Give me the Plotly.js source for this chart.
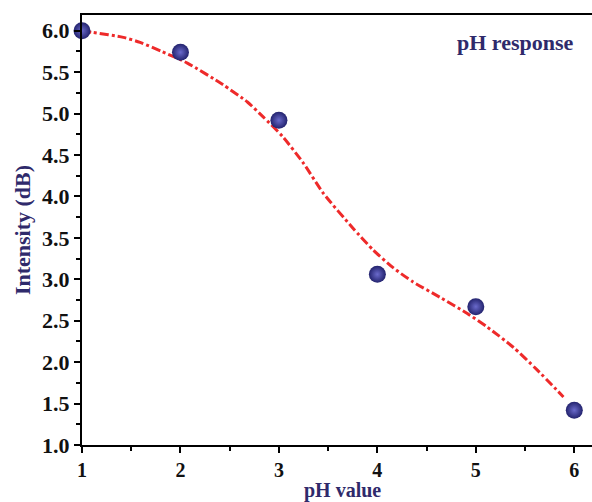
<!DOCTYPE html>
<html>
<head>
<meta charset="utf-8">
<script src="https://cdn.plot.ly/plotly-3.0.1.min.js"></script>
<style>html,body{margin:0;padding:0;background:#fff;}#chart{width:592px;height:502px;}</style>
</head>
<body>
<div id="chart"></div>
<script>
// Measured data points
var phValues = [1, 2, 3, 4, 5, 6];
var intensity = [6.0, 5.74, 4.92, 3.06, 2.67, 1.42];

// Fitted curve
var fitX = [1, 1.11, 1.42, 1.59, 1.81, 2.07, 2.43, 2.68, 2.84, 3.04, 3.25, 3.45, 3.75, 3.96, 4.16, 4.36, 4.64, 4.91, 5.12, 5.38, 5.62, 5.89];
var fitY = [6.0, 5.98, 5.92, 5.86, 5.75, 5.61, 5.35, 5.14, 4.96, 4.72, 4.40, 4.04, 3.62, 3.35, 3.14, 2.97, 2.78, 2.59, 2.42, 2.18, 1.91, 1.58];

var xTicks = [1, 2, 3, 4, 5, 6];
var yTicks = [1.0, 1.5, 2.0, 2.5, 3.0, 3.5, 4.0, 4.5, 5.0, 5.5, 6.0];

var serif = 'Liberation Serif, Times New Roman, serif';
var navy = '#2f2a6b';

var traces = [
  {
    x: fitX, y: fitY, mode: 'lines', type: 'scatter',
    line: {color: '#ee2a2a', width: 3, dash: 'dashdot', shape: 'spline', smoothing: 0.6},
    hoverinfo: 'skip', showlegend: false
  },
  {
    x: phValues, y: intensity, mode: 'markers', type: 'scatter',
    marker: {size: 17, color: '#23236e', gradient: {type: 'radial', color: '#6a6acb'}, line: {width: 0}},
    cliponaxis: false, showlegend: false
  }
];

var layout = {
  width: 592, height: 502,
  margin: {l: 82, r: 0, t: 15, b: 57},
  paper_bgcolor: '#ffffff', plot_bgcolor: '#ffffff',
  showlegend: false,
  xaxis: {
    range: [1, 6.18], tickvals: xTicks, ticktext: xTicks.map(String),
    showgrid: false, zeroline: false,
    showline: true, linecolor: '#000', linewidth: 2, mirror: true,
    ticks: 'outside', ticklen: 6, tickwidth: 2, tickcolor: '#000',
    minor: {ticks: 'outside', ticklen: 4, tickwidth: 2, tickcolor: '#000', dtick: 0.5, showgrid: false},
    tickfont: {family: serif, size: 20, color: '#111', weight: 'bold'},
    automargin: false
  },
  yaxis: {
    range: [1, 6.19], tickvals: yTicks, ticktext: yTicks.map(function(v){return v.toFixed(1);}),
    showgrid: false, zeroline: false,
    showline: true, linecolor: '#000', linewidth: 2, mirror: false,
    ticks: 'outside', ticklen: 6, tickwidth: 2, tickcolor: '#000',
    minor: {ticks: 'outside', ticklen: 4, tickwidth: 2, tickcolor: '#000', dtick: 0.25, showgrid: false},
    tickfont: {family: serif, size: 22, color: '#111', weight: 'bold'},
    title: {text: 'Intensity (dB)', font: {family: serif, size: 22, color: navy, weight: 'bold'}, standoff: 5},
    automargin: false
  },
  annotations: [
    {
      text: 'pH response', xref: 'paper', yref: 'paper', x: 0.85, y: 0.937,
      xanchor: 'center', yanchor: 'middle', showarrow: false,
      font: {family: serif, size: 22, color: navy, weight: 'bold'}
    },
    {
      text: 'pH value', xref: 'paper', yref: 'paper', x: 0.51, y: -0.106,
      xanchor: 'center', yanchor: 'middle', showarrow: false,
      font: {family: serif, size: 20, color: navy, weight: 'bold'}
    }
  ]
};

Plotly.newPlot('chart', traces, layout, {displayModeBar: false, staticPlot: true});
</script>
</body>
</html>
